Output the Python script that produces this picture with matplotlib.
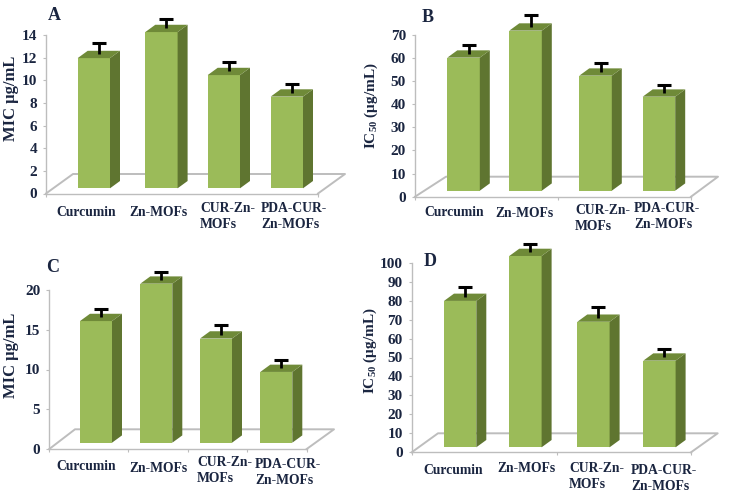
import matplotlib
matplotlib.use("Agg")
import matplotlib.pyplot as plt

plt.rcParams['font.family'] = ['Liberation Serif', 'DejaVu Serif']
plt.rcParams['font.weight'] = 'bold'
plt.rcParams['mathtext.fontset'] = 'custom'
plt.rcParams['mathtext.bf'] = 'Liberation Serif:bold'
plt.rcParams['mathtext.rm'] = 'Liberation Serif:bold'

# values
values_a = [11.5, 13.8, 10.0, 8.1]
errors_a = [1.05, 0.8, 0.85, 0.8]
values_b = [57.6, 69.3, 49.8, 40.7]
errors_b = [3.9, 5.2, 4.1, 3.5]
values_c = [15.3, 20.0, 13.1, 8.9]
errors_c = [1.07, 1.03, 1.23, 1.03]
values_d = [77.2, 100.9, 66.2, 45.7]
errors_d = [5.3, 4.3, 5.7, 4.1]
ticks_a = [0, 2, 4, 6, 8, 10, 12, 14]
ticks_b = [0, 10, 20, 30, 40, 50, 60, 70]
ticks_c = [0, 5, 10, 15, 20]
ticks_d = [0, 10, 20, 30, 40, 50, 60, 70, 80, 90, 100]

W, H = 729, 497
TEXT = '#1a2540'
FRONT = '#9bbb59'
SIDE = '#5f7530'
TOP = '#6f8a38'
GRID = '#bdbdbd'
DX, DY = 10, 7.3   # bar depth in pixels

fig = plt.figure(figsize=(W / 100, H / 100), dpi=100)


def px_text(x, y, s, **kw):
    fig.text(x / W, 1 - y / H, s, color=TEXT, fontweight='bold', **kw)


def panel(values, errors, ticks, layout):
    x0, x1 = layout['axis_x']
    y0, ytop = layout['axis_y']
    ax = fig.add_axes([x0 / W, 1 - y0 / H, (x1 - x0) / W, (y0 - ytop) / H])
    ax.patch.set_alpha(0)
    ax.set_xlim(x0, x1)
    ax.set_ylim(0, ticks[-1])
    ppu = (y0 - ytop) / ticks[-1]

    # floor of the 3d box
    back = layout['floor_back']
    fy = (y0 - back[2]) / ppu
    ax.plot([x0, back[0], back[1], x1], [0, fy, fy, 0], color=GRID, lw=1.4, clip_on=False, zorder=1)

    base = (y0 - layout['bar_bottom']) / ppu
    dy = DY / ppu
    width = layout['bar_width']
    for left, v, e in zip(layout['bar_left'], values, errors):
        right = left + width
        top = base + v
        ax.bar(left, v, width, bottom=base, align='edge', color=FRONT, zorder=3, clip_on=False)
        ax.fill([right, right + DX, right + DX, right], [base, base + dy, top + dy, top], color=SIDE, lw=0,
                zorder=3, clip_on=False)
        ax.fill([left, left + DX, right + DX, right], [top, top + dy, top + dy, top], color=TOP, lw=0,
                zorder=3, clip_on=False)
        _, caps, bars = ax.errorbar(left + width / 2 + DX / 2, top + dy / 2, yerr=[[0], [e]], color='black',
                                    elinewidth=2, capsize=5, capthick=2.2, zorder=4, clip_on=False)
        caps[0].set_visible(False)
        caps[1].set_clip_on(False)
        bars[0].set_clip_on(False)

    for s in ['top', 'right']:
        ax.spines[s].set_visible(False)
    for s in ['left', 'bottom']:
        ax.spines[s].set_color(GRID)
        ax.spines[s].set_linewidth(1.0)
    ax.set_yticks(ticks)
    ax.set_xticks(layout['xticks'])
    ax.set_xticklabels([])
    ax.tick_params(axis='y', length=2.5, width=0.8, color=GRID, pad=4, labelsize=11, labelcolor=TEXT)
    ax.tick_params(axis='x', length=2.5, width=0.8, color=GRID)

    for (x, y, s, ha) in layout['labels']:
        px_text(x, y, s, ha=ha, va='center', fontsize=9.8, linespacing=1.3)
    px_text(*layout['letter'], fontsize=13, ha='center', va='center')
    px_text(*layout['ylabel'], rotation=90, fontsize=layout['ylabel_size'], ha='center', va='center')


MIC = 'MIC μg/mL'
IC50 = r'IC$\mathbf{_{50}}$ (μg/mL)'

panel(values_a, errors_a, ticks_a, {
    'axis_x': (46, 318), 'axis_y': (193.5, 35), 'floor_back': (73, 345, 174),
    'bar_left': [77.7, 145.3, 207.7, 270.7], 'bar_width': 32.3, 'bar_bottom': 188.3,
    'xticks': [46, 318], 'letter': (54, 15, 'A'), 'ylabel': (11, 98, MIC), 'ylabel_size': 12,
    'labels': [(86, 212, 'Curcumin', 'center'), (159, 213, 'Zn-MOFs', 'center'),
               (200, 216, 'CUR-Zn-\nMOFs', 'left'), (261, 216, 'PDA-CUR-\nZn-MOFs', 'left')],
})
panel(values_b, errors_b, ticks_b, {
    'axis_x': (415, 691), 'axis_y': (196.7, 35), 'floor_back': (446, 718, 176.7),
    'bar_left': [447.3, 509.3, 579.3, 642.7], 'bar_width': 32.5, 'bar_bottom': 190.7,
    'xticks': [415, 558, 691], 'letter': (428, 17, 'B'), 'ylabel': (371, 106, IC50), 'ylabel_size': 11,
    'labels': [(454, 213, 'Curcumin', 'center'), (525, 214, 'Zn-MOFs', 'center'),
               (575, 218, 'CUR-Zn-\nMOFs', 'left'), (634, 216, 'PDA-CUR-\nZn-MOFs', 'left')],
})
panel(values_c, errors_c, ticks_c, {
    'axis_x': (49.3, 306.7), 'axis_y': (449, 290), 'floor_back': (75, 334, 429.3),
    'bar_left': [80, 140.3, 200, 260.3], 'bar_width': 32, 'bar_bottom': 442.7,
    'xticks': [49.3, 128, 188, 247, 306.7], 'letter': (53, 267, 'C'), 'ylabel': (11, 355, MIC), 'ylabel_size': 12,
    'labels': [(86, 466, 'Curcumin', 'center'), (159, 468, 'Zn-MOFs', 'center'),
               (197, 471, 'CUR-Zn-\nMOFs', 'left'), (255, 473, 'PDA-CUR-\nZn-MOFs', 'left')],
})
panel(values_d, errors_d, ticks_d, {
    'axis_x': (411.7, 691), 'axis_y': (452.3, 262.7), 'floor_back': (438, 717.7, 433.3),
    'bar_left': [444, 509.3, 577.3, 643.3], 'bar_width': 32.3, 'bar_bottom': 447.3,
    'xticks': [411.7, 557, 691], 'letter': (430, 262, 'D'), 'ylabel': (370, 351, IC50), 'ylabel_size': 11,
    'labels': [(453, 470, 'Curcumin', 'center'), (526, 469, 'Zn-MOFs', 'center'),
               (569, 476, 'CUR-Zn-\nMOFs', 'left'), (631, 478, 'PDA-CUR-\nZn-MOFs', 'left')],
})

fig.savefig('out.png', dpi=100)
